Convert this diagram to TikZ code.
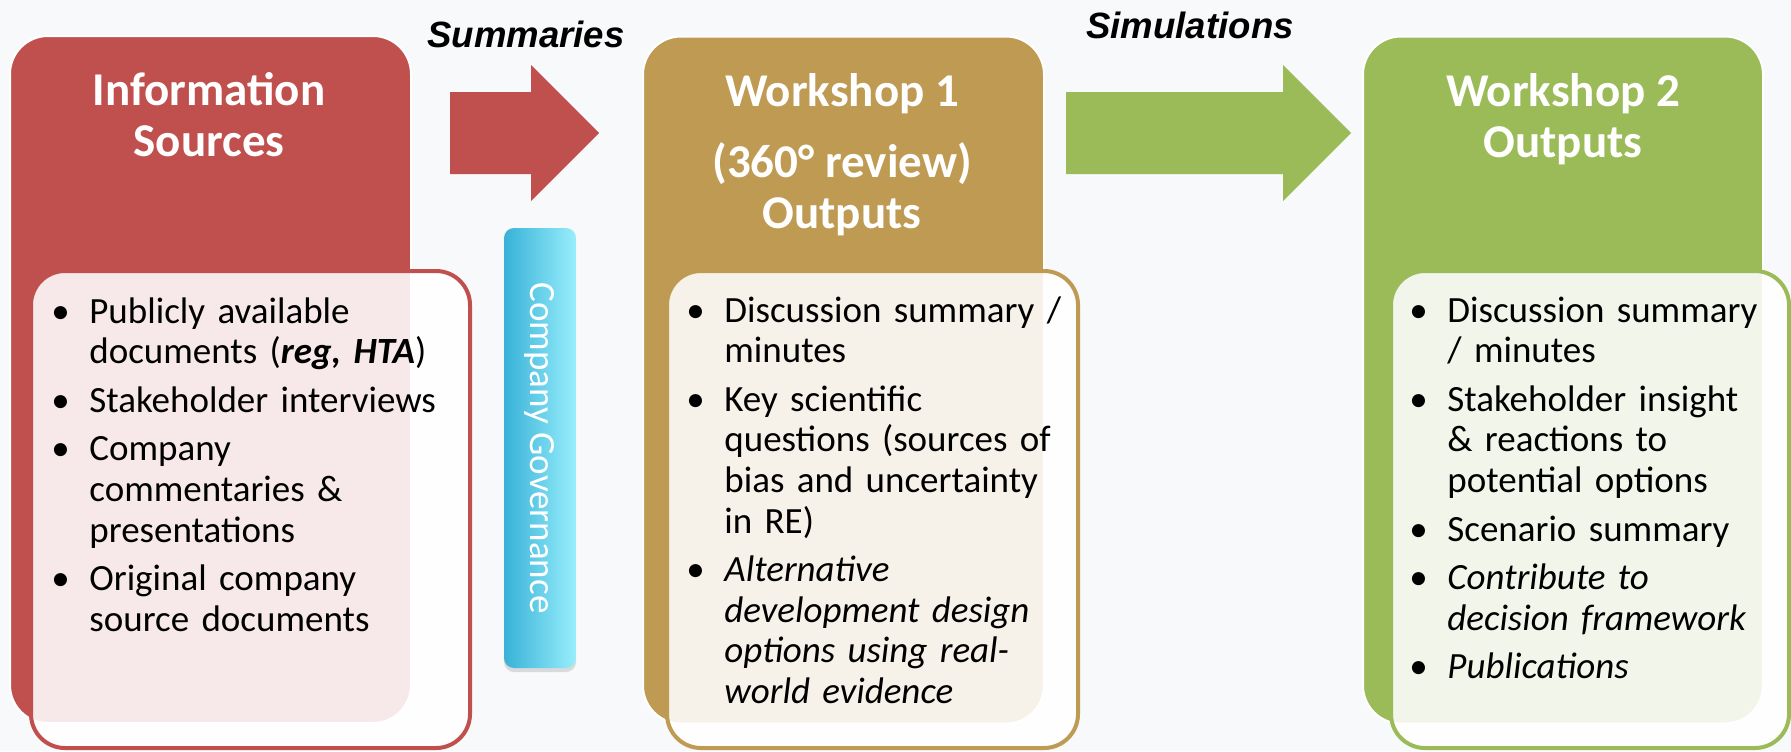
\documentclass[tikz,border=0pt]{standalone}
\usepackage{fontspec}
\setmainfont{Carlito}
\newfontfamily\arialfont{Liberation Sans}
\usetikzlibrary{positioning,calc,shadows}

\definecolor{infoRed}{HTML}{C0504D}
\definecolor{wsGold}{HTML}{BE9A52}
\definecolor{wsGreen}{HTML}{9BBB59}
\definecolor{govDark}{HTML}{38B2D8}
\definecolor{govLight}{HTML}{98EEFB}
\definecolor{pageBg}{HTML}{F8F9FB}

% one bullet line with hanging indent
\newcommand{\bulletItem}[1]{\par\hangindent=15pt\hangafter=1\noindent\makebox[15pt][l]{\hspace{-4pt}\textbullet}#1}

\begin{document}
\begin{tikzpicture}[x=0.5pt, y=-0.5pt,
    headBox/.style={rectangle, rounded corners=19pt, draw=white, line width=1pt, minimum width=200.5pt, minimum height=343.5pt, inner sep=0pt},
    listBox/.style={rectangle, rounded corners=17pt, line width=2pt, fill=white, fill opacity=0.88, minimum height=238.5pt, inner sep=0pt},
    headText/.style={anchor=north, align=center, text=white, inner sep=0pt, font=\fontsize{23.5pt}{25.5pt}\selectfont\bfseries},
    listText/.style={anchor=north west, align=left, text width=210pt, inner sep=0pt, font=\fontsize{18.5pt}{20.3pt}\selectfont,
                     execute at begin node={\setlength{\parskip}{4pt}}},
    stepLabel/.style={anchor=base, inner sep=0pt, font=\fontsize{18.3pt}{20pt}\selectfont\arialfont\bfseries\itshape}]

    \useasboundingbox[fill=pageBg] (0,0) rectangle (1791,751);

    % coloured column boxes
    \node[headBox, fill=infoRed] (info) at (210.5, 379.5) {};
    \node[headBox, fill=wsGold]  (ws1)  at (843.5, 380) {};
    \node[headBox, fill=wsGreen, minimum width=200pt] (ws2) at (1563, 380) {};

    % list boxes in front
    \node[listBox, draw=infoRed, minimum width=219.5pt] (infoList) at (250.5, 509.5) {};
    \node[listBox, draw=wsGold,  minimum width=205.5pt] (ws1List)  at (872.5, 509.5) {};
    \node[listBox, draw=wsGreen, minimum width=199pt]   (ws2List)  at (1590, 509.5) {};

    % titles
    \node[headText] (infoTitle) at (209, 72) {Information\\Sources};
    \node[headText] (ws1Title)  at (842, 73) {Workshop 1\\[10pt](360° review)\\Outputs};
    \node[headText] (ws2Title)  at (1563, 73) {Workshop 2\\Outputs};

    % block arrows
    \fill[infoRed] (450,92) -- (531,92) -- (531,65) -- (599,133) -- (531,201) -- (531,174) -- (450,174) -- cycle;
    \fill[wsGreen] (1066,92) -- (1283,92) -- (1283,65) -- (1351,133) -- (1283,201) -- (1283,174) -- (1066,174) -- cycle;
    \node[stepLabel] (summaries)   at (526, 47) {Summaries};
    \node[stepLabel] (simulations) at (1190, 38) {Simulations};

    % governance bar
    \node[rectangle, rounded corners=5pt, left color=govDark, right color=govLight, minimum width=36pt, minimum height=220pt,
          drop shadow={opacity=0.25, shadow xshift=0pt, shadow yshift=-2pt}] (gov) at (540, 448) {};
    \node[rotate=-90, text=white, inner sep=0pt, font=\fontsize{18.5pt}{20pt}\selectfont] (govText) at (gov.center) {Company Governance};

    % bullet lists
    \node[listText] (infoItems) at (59, 274) {%
        \bulletItem{Publicly available\newline documents (\textbf{\textit{reg, HTA}})}
        \bulletItem{Stakeholder interviews}
        \bulletItem{Company\newline commentaries \&\newline presentations}
        \bulletItem{Original company\newline source documents}\par};
    \node[listText] (ws1Items) at (694, 273) {%
        \bulletItem{Discussion summary /\newline minutes}
        \bulletItem{Key scientific\newline questions (sources of\newline bias and uncertainty\newline in RE)}
        \bulletItem{\textit{Alternative\newline development design\newline options using real-\newline world evidence}}\par};
    \node[listText] (ws2Items) at (1417, 273) {%
        \bulletItem{Discussion summary\newline / minutes}
        \bulletItem{Stakeholder insight\newline \& reactions to\newline potential options}
        \bulletItem{Scenario summary}
        \bulletItem{\textit{Contribute to\newline decision framework}}
        \bulletItem{\textit{Publications}}\par};
\end{tikzpicture}
\end{document}
